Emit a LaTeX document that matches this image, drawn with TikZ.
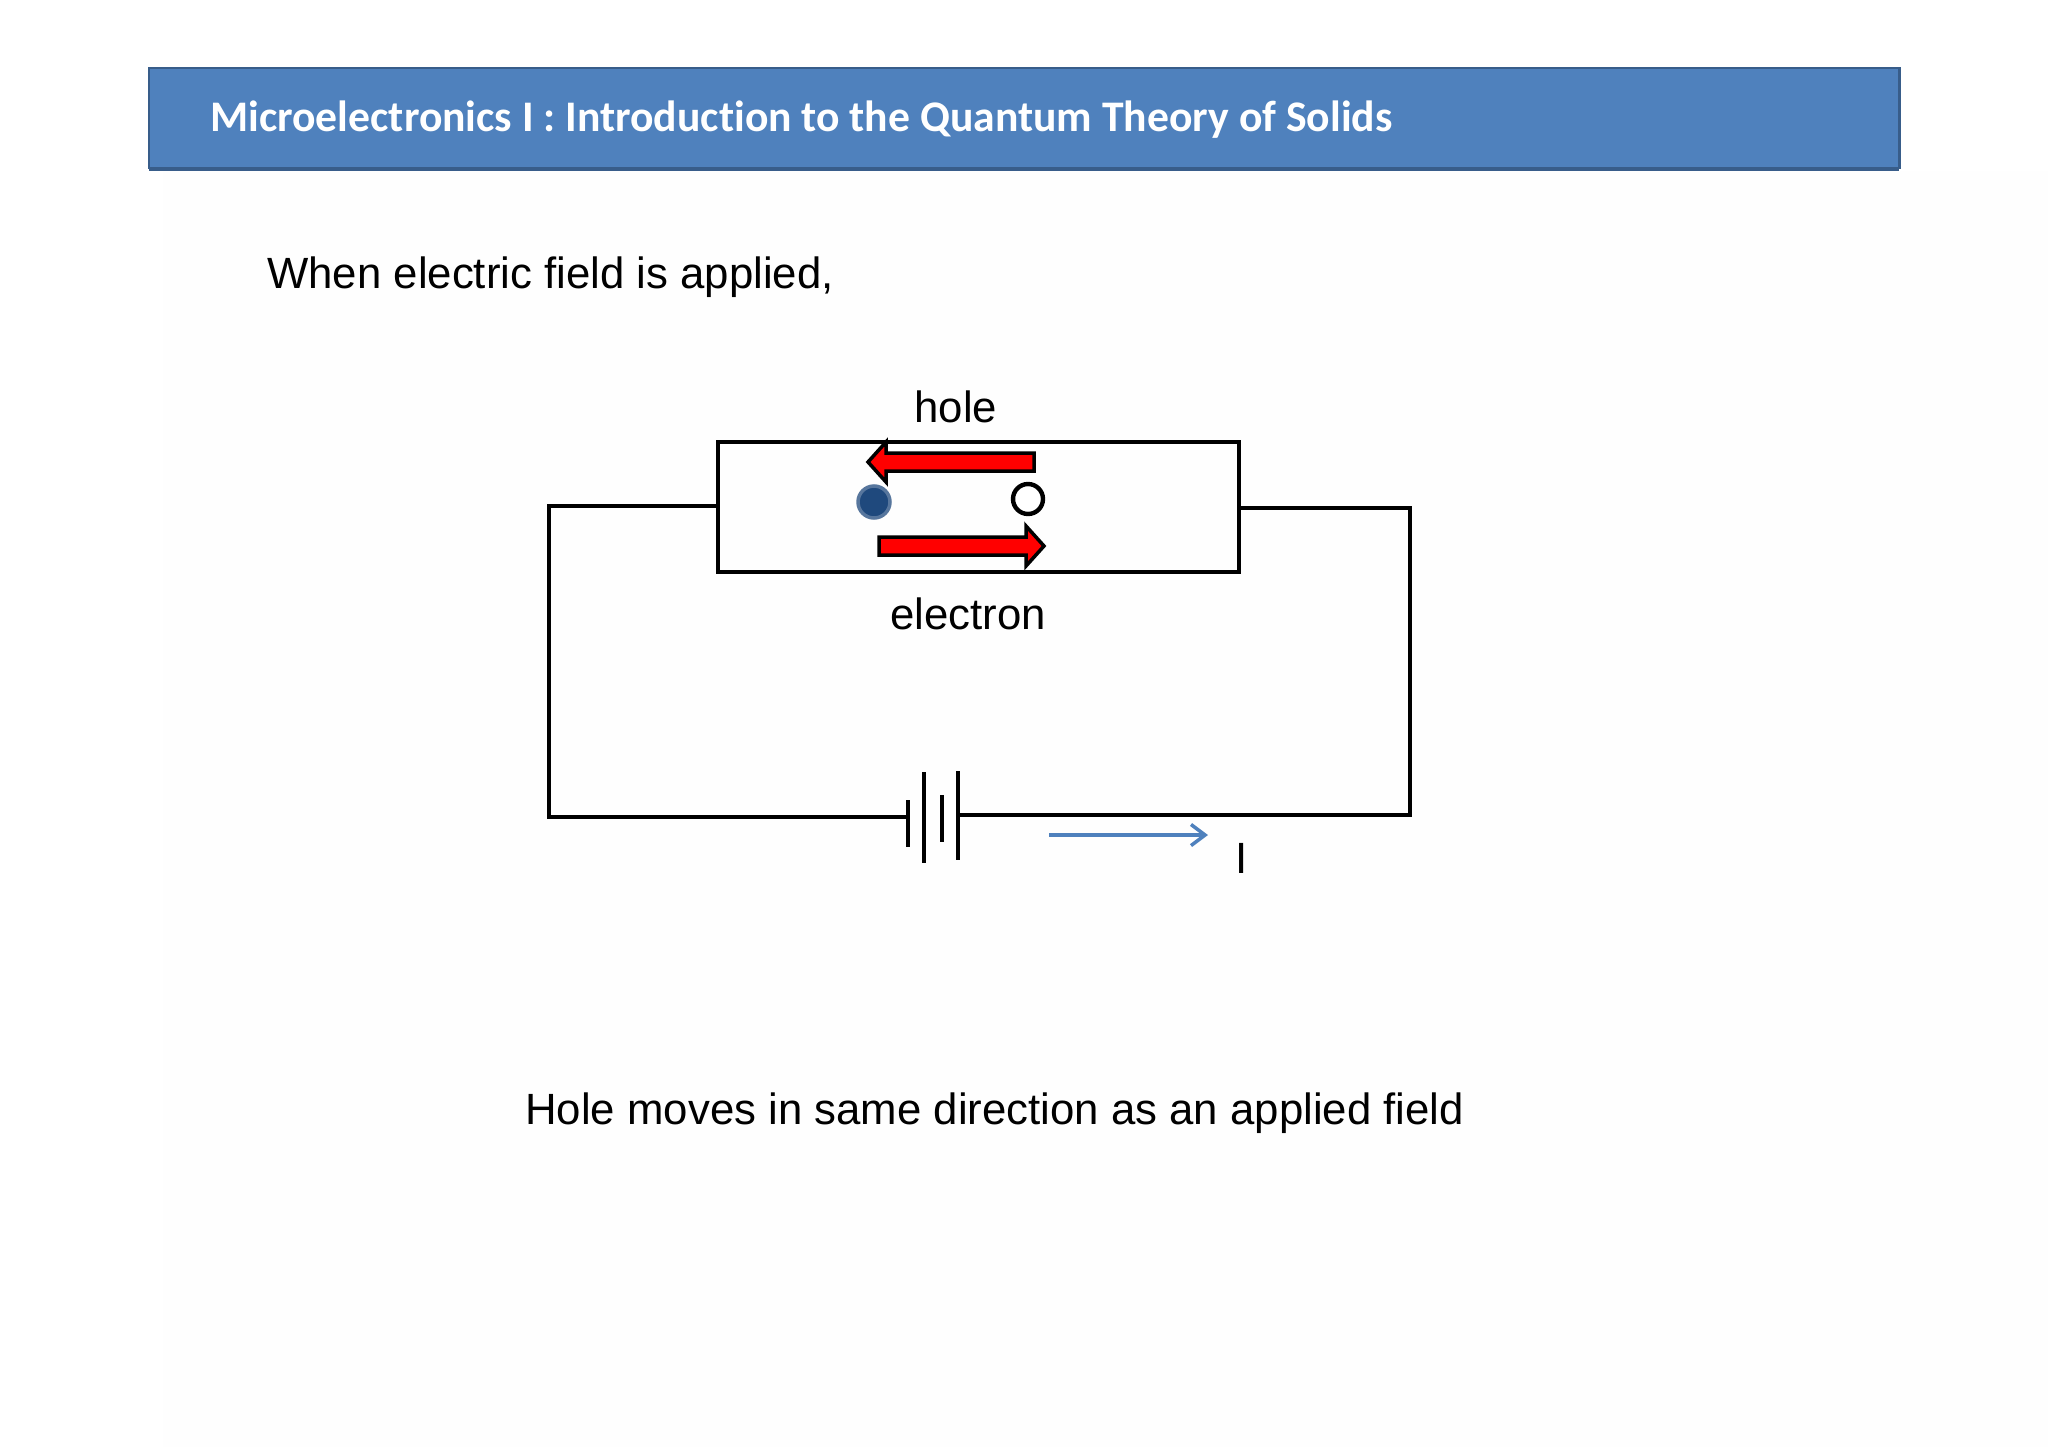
\documentclass[tikz,border=0pt]{standalone}
\usepackage{fontspec}
\setmainfont{Liberation Sans}
\newfontfamily\bannerfont[Ligatures={NoCommon}]{Carlito}
\usetikzlibrary{arrows.meta}
\definecolor{bannerblue}{HTML}{4F81BD}
\definecolor{bannerdark}{HTML}{385D8A}
\definecolor{dotblue}{HTML}{1F497D}
\definecolor{pagegray}{HTML}{FEFEFE}
\tikzset{
    wire/.style={black,line width=2.7pt},
    plate/.style={black,line width=2.4pt},
    redarrow/.style={fill=red,draw=black,line width=2pt,line join=miter},
    bodytext/.style={font=\fontsize{24.9}{30}\selectfont,inner sep=0pt,anchor=base west},
}
\begin{document}
\begin{tikzpicture}[x=0.02cm,y=-0.02cm]
                \useasboundingbox (0,0) rectangle (2048,1447);
                \fill[fill=white] (0,0) rectangle (2048,1447);
                \fill[fill=pagegray] (163,171) rectangle (2048,1447);
                % banner
                \fill[fill=bannerblue,draw=bannerdark,line width=1.7pt] (149,68) rectangle (1899,168);
                \draw[bannerdark,line width=2.8pt] (149,169) -- (1899,169);
                \node[font=\bannerfont\bfseries\fontsize{24.85}{28}\selectfont,text=white,inner sep=0pt,anchor=base west] (title) at (210,131) {Microelectronics I : Introduction to the Quantum Theory of Solids};
                \node[bodytext] (intro) at (267,288) {When electric field is applied,};
                \node[bodytext] (summary) at (525,1124) {Hole moves in same direction as an applied field};
                % sample
                \draw[wire] (718,442) rectangle (1239,572);
                \coordinate (sampleL) at (718,506);
                \coordinate (sampleR) at (1239,508);
                \coordinate (cornerTL) at (549,506);
                \coordinate (cornerBL) at (549,817);
                \coordinate (cornerTR) at (1410,508);
                \coordinate (cornerBR) at (1410,815);
                \coordinate (batteryL) at (908,817);
                \coordinate (batteryR) at (957,815);
                \draw[wire] (sampleL) -- (cornerTL) -- (cornerBL) -- (batteryL);
                \draw[wire] (sampleR) -- (cornerTR) -- (cornerBR) -- (batteryR);
                % battery
                \foreach \x/\a/\b in {908/800/847,924/772/863,942/795/842,958/771/860}
                {
                    \draw[plate] (\x,\a) -- (\x,\b);
                }
                % carriers
                \draw[redarrow] (1034,453) -- (886,453) -- (886,442) -- (868,462) -- (886,482) -- (886,471) -- (1034,471) -- cycle;
                \draw[redarrow] (879,537) -- (1026,537) -- (1026,526) -- (1044,546) -- (1026,566) -- (1026,555) -- (879,555) -- cycle;
                \node[circle,fill=dotblue,draw=dotblue!75!white,line width=2pt,minimum size=32*0.569pt,inner sep=0pt] (electron) at (874,502) {};
                \node[circle,fill=white,draw=black,line width=2.5pt,minimum size=30*0.569pt,inner sep=0pt] (hole) at (1028,499) {};
                \node[bodytext] (holelabel) at (914,422) {hole};
                \node[bodytext] (electronlabel) at (890,629) {electron};
                % current
                \coordinate (currentA) at (1049,835);
                \coordinate (currentB) at (1208,835);
                \draw[bannerblue,line width=2.1pt,-{Straight Barb[length=8pt,width=12pt,line width=2pt]}] (currentA) -- (currentB);
                \node[bodytext] (currentlabel) at (1235,873) {I};
            \end{tikzpicture}
\end{document}
